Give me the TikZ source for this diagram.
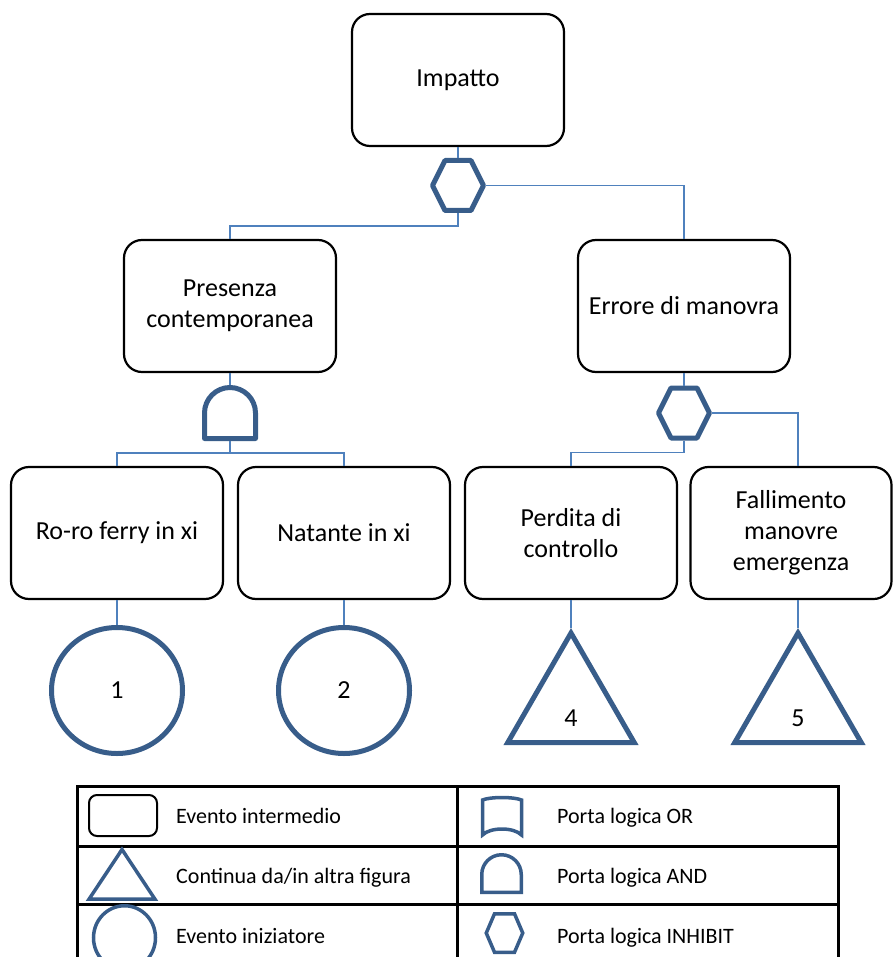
\documentclass[tikz,border=0pt]{standalone}
\usepackage{fontspec}
\setmainfont{Carlito}
\usetikzlibrary{shapes.geometric,calc}

\definecolor{linkblue}{RGB}{79,129,189}
\definecolor{gateblue}{RGB}{56,93,138}

\tikzset{
  event/.style={rectangle, draw, line width=2.2pt, rounded corners=18pt, minimum width=212pt, minimum height=132pt, inner sep=0pt, align=center, font=\fontsize{26}{31}\selectfont},
  link/.style={draw=linkblue, line width=1.6pt},
  gateline/.style={draw=gateblue, line width=5pt, line join=round},
  leggate/.style={draw=gateblue, line width=3.5pt},
  legline/.style={draw=black, line width=3pt},
  inhibit/.style={rectangle, inner sep=0pt, outer sep=0pt, minimum width=56pt, minimum height=55pt,
    path picture={\draw[gateline, shift={(path picture bounding box.center)}] (-25.5,0) -- (-13,-25) -- (13,-25) -- (25.5,0) -- (13,25) -- (-13,25) -- cycle;}},
  andgate/.style={rectangle, inner sep=0pt, outer sep=0pt, minimum width=56pt, minimum height=56pt,
    path picture={\draw[gateline, shift={(path picture bounding box.center)}] (-25.5,25.5) -- (-25.5,0) arc[start angle=180, end angle=360, radius=25.5] -- (25.5,25.5) -- cycle;}},
  basic/.style={ellipse, draw=gateblue, line width=5pt, minimum width=131pt, minimum height=126pt, inner sep=0pt, font=\fontsize{26}{31}\selectfont},
  transfer/.style={regular polygon, regular polygon sides=3, draw=gateblue, line width=5pt, minimum size=146pt, inner sep=0pt},
  num/.style={inner sep=0pt, font=\fontsize{26}{31}\selectfont},
  legtext/.style={anchor=base west, inner sep=0pt, font=\fontsize{22}{26}\selectfont}
}

\begin{document}
\begin{tikzpicture}[x=1pt, y=-1pt]
  \useasboundingbox (0,0) rectangle (894,957);

  % tree
  \node[event] (imp) at (458,80) {Impatto};
  \node[inhibit] (hx1) at (458,185.5) {};
  \node[event] (pre) at (230,306) {Presenza\\contemporanea};
  \node[event] (err) at (684,306) {Errore di manovra};
  \node[andgate] (and1) at (230,413) {};
  \node[inhibit] (hx2) at (684,413) {};
  \node[event] (ror) at (117,533) {Ro-ro ferry in xi};
  \node[event] (nat) at (344,533) {Natante in xi};
  \node[event] (per) at (571,533) {Perdita di\\controllo};
  \node[event, minimum width=201pt] (fal) at (791,533) {Fallimento\\manovre\\emergenza};
  \node[basic] (ev1) at (117,690.5) {1};
  \node[basic] (ev2) at (344,690.5) {2};
  \node[transfer] (tr4) at (571,706) {};
  \node[transfer] (tr5) at (798,706) {};
  \node[num] (n4) at ($(tr4.center)+(0,12)$) {4};
  \node[num] (n5) at ($(tr5.center)+(0,12)$) {5};

  \draw[link] (imp.south) -- (hx1.north);
  \draw[link] (hx1.south) -- ++(0,13) -| (pre.north);
  \draw[link] (hx1.east) -| (err.north);
  \draw[link] (pre.south) -- (and1.north);
  \draw[link] (and1.south) -- ++(0,12) coordinate (j1) -| (ror.north);
  \draw[link] (j1) -| (nat.north);
  \draw[link] (err.south) -- (hx2.north);
  \draw[link] (hx2.south) -- ++(0,12) -| (per.north);
  \draw[link] (hx2.east) -| ([xshift=7pt]fal.north);
  \draw[link] (ror.south) -- (ev1.north);
  \draw[link] (nat.south) -- (ev2.north);
  \draw[link] (per.south) -- (tr4.north);
  \draw[link] ([xshift=7pt]fal.south) -- (tr5.north);

  % legend
  \draw[legline] (77,786) rectangle (838,965);
  \draw[legline] (77,846) -- (838,846);
  \draw[legline] (77,904) -- (838,904);
  \draw[legline] (457,786) -- (457,965);

  \draw[line width=2pt, rounded corners=8pt] (89,795) rectangle (157,836);
  \draw[leggate] (122,849.5) -- (155,899.2) -- (89,899.2) -- cycle;
  \draw[leggate] (124.5,937.75) ellipse [x radius=31, y radius=32];
  \draw[leggate] (482.5,835) -- (482.5,800) .. controls (490,796.7) and (514,796.7) .. (521.5,800) -- (521.5,835) .. controls (514,827) and (490,827) .. (482.5,835) -- cycle;
  \draw[leggate] (481.75,892.25) -- (481.75,874.5) arc[start angle=180, end angle=360, radius=19.75] -- (521.25,892.25) -- cycle;
  \draw[leggate] (486.25,933) -- (494.5,913.75) -- (514.5,913.75) -- (522.75,933) -- (514.5,952.25) -- (494.5,952.25) -- cycle;

  \node[legtext] (lt1) at (176,823) {Evento intermedio};
  \node[legtext] (lt2) at (176,883) {Continua da/in altra figura};
  \node[legtext] (lt3) at (176,943) {Evento iniziatore};
  \node[legtext] (lt4) at (557,823) {Porta logica OR};
  \node[legtext] (lt5) at (557,883) {Porta logica AND};
  \node[legtext] (lt6) at (557,943) {Porta logica INHIBIT};
\end{tikzpicture}
\end{document}
